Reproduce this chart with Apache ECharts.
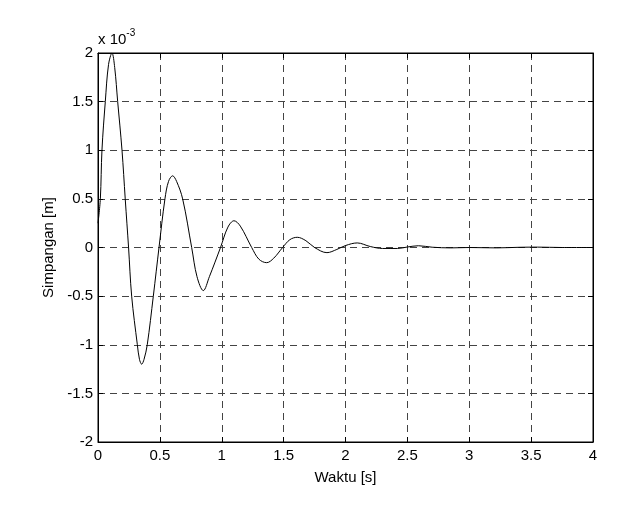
<!doctype html>
<html>
<head>
<meta charset="utf-8">
<title>Simpangan vs Waktu</title>
<script src="https://cdn.jsdelivr.net/npm/echarts@6/dist/echarts.min.js"></script>
<style>
    body{margin:0;background:#fff;}
    #main{width:624px;height:517px;}
</style>
</head>
<body>
<div id="main"></div>
<script>
    // waktu [s] dan simpangan (satuan 1e-3 m)
    var waktu = [0.000, 0.019, 0.032, 0.059, 0.085, 0.113, 0.135, 0.159, 0.194, 0.220,
        0.247, 0.272, 0.318, 0.335, 0.353, 0.372, 0.398, 0.447, 0.493, 0.541,
        0.570, 0.603, 0.635, 0.684, 0.757, 0.800, 0.851, 0.900, 0.990, 1.050,
        1.099, 1.150, 1.242, 1.300, 1.363, 1.420, 1.492, 1.550, 1.610, 1.680,
        1.750, 1.850, 1.930, 2.000, 2.095, 2.200, 2.300, 2.420, 2.500, 2.590,
        2.700, 2.850, 3.000, 3.220, 3.400, 3.550, 3.750, 4.000];
    var simpangan = [0.25, 0.5, 1.0, 1.5, 1.88, 2.0, 1.85, 1.5, 1.0, 0.5,
        0.0, -0.5, -1.0, -1.15, -1.2, -1.15, -1.0, -0.5, 0.0, 0.5,
        0.68, 0.737, 0.68, 0.5, 0.0, -0.3, -0.443, -0.3, 0.0, 0.21,
        0.275, 0.22, 0.0, -0.12, -0.156, -0.11, 0.0, 0.08, 0.105, 0.07,
        0.0, -0.053, -0.02, 0.02, 0.047, 0.01, -0.01, -0.01, 0.005, 0.018,
        0.003, -0.004, 0.0, -0.004, 0.002, 0.004, 0.0, 0.0];
    var xTicks = [0, 0.5, 1, 1.5, 2, 2.5, 3, 3.5, 4];
    var yTicks = [-2, -1.5, -1, -0.5, 0, 0.5, 1, 1.5, 2];

    var data = waktu.map(function (t, i) { return [t, simpangan[i]]; });
    var font = 'Liberation Sans, Arial, sans-serif';
    var gridDash = {color: '#444', type: [7, 5], width: 1};
    var boxLine = {show: true, onZero: false, lineStyle: {color: '#000'}};
    var tick = {inside: true, length: 5, lineStyle: {color: '#000'}};

    var myChart = echarts.init(document.getElementById('main'));
    var option = {
        animation: false,
        backgroundColor: '#fff',
        textStyle: {fontFamily: font},
        grid: {left: 98, top: 53, right: 31, bottom: 75, show: true,
            borderColor: '#000', borderWidth: 1, backgroundColor: '#fff'},
        graphic: [{
            type: 'text', left: 98, top: 28,
            style: {
                text: '{a|x 10}{b|-3}',
                rich: {
                    a: {fontSize: 15, fontFamily: font, fill: '#000', verticalAlign: 'bottom'},
                    b: {fontSize: 10, fontFamily: font, fill: '#000', verticalAlign: 'top', padding: [0, 0, 9, 0]}
                }
            }
        }],
        xAxis: [{
            type: 'value', min: xTicks[0], max: xTicks[xTicks.length - 1], interval: 0.5,
            name: 'Waktu [s]', nameLocation: 'middle', nameGap: 28,
            nameTextStyle: {fontSize: 15, color: '#000', fontFamily: font},
            axisLine: boxLine,
            axisTick: tick,
            axisLabel: {fontSize: 15, color: '#000', margin: 6, fontFamily: font},
            splitLine: {show: true, lineStyle: gridDash}
        }, {
            type: 'value', position: 'top', min: xTicks[0], max: xTicks[xTicks.length - 1], interval: 0.5,
            axisLine: boxLine,
            axisTick: tick,
            axisLabel: {show: false}, splitLine: {show: false}
        }],
        yAxis: [{
            type: 'value', min: yTicks[0], max: yTicks[yTicks.length - 1], interval: 0.5,
            name: 'Simpangan [m]', nameLocation: 'middle', nameGap: 42,
            nameTextStyle: {fontSize: 15, color: '#000', fontFamily: font},
            axisLine: boxLine,
            axisTick: tick,
            axisLabel: {fontSize: 15, color: '#000', margin: 5, fontFamily: font},
            splitLine: {show: true, lineStyle: gridDash}
        }, {
            type: 'value', position: 'right', min: yTicks[0], max: yTicks[yTicks.length - 1], interval: 0.5,
            axisLine: boxLine,
            axisTick: tick,
            axisLabel: {show: false}, splitLine: {show: false}
        }],
        series: [{
            type: 'line',
            data: data,
            smooth: 0.35,
            showSymbol: false,
            lineStyle: {color: '#000', width: 1},
            z: 5
        }]
    };
    myChart.setOption(option);
</script>
</body>
</html>
